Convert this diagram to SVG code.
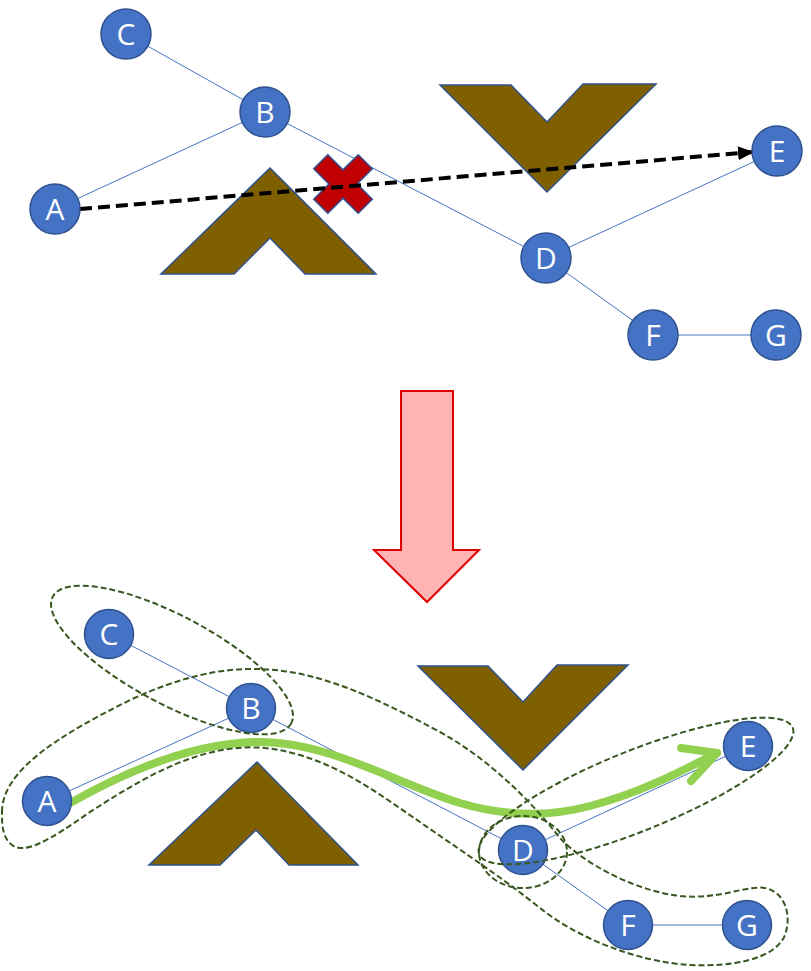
<svg xmlns="http://www.w3.org/2000/svg" width="811" height="971" viewBox="0 0 811 971">
<defs>
<style>
.node circle{fill:#4472C4;stroke:#2F528F;stroke-width:1.5}
.node text{fill:#FFFFFF;font-family:"Open Sans","Noto Sans","DejaVu Sans",sans-serif;font-size:30px;text-anchor:middle}
.edge{stroke:#4472C4;stroke-width:1;fill:none}
.obst{fill:#7F6000;stroke:#2F528F;stroke-width:1.5;stroke-linejoin:miter}
.cluster{fill:none;stroke:#38561F;stroke-width:2;stroke-dasharray:6 3}
</style>
<marker id="blackhead" markerUnits="userSpaceOnUse" markerWidth="16" markerHeight="14" refX="15" refY="7" orient="auto">
<path d="M0,0 L16,7 L0,14 Z" fill="#000000"/>
</marker>
</defs>
<rect width="811" height="971" fill="#FFFFFF"/>

<!-- TOP PANEL -->
<g id="top-connectors">
<line class="edge" x1="126" y1="34" x2="265" y2="112"/>
<line class="edge" x1="55" y1="209" x2="265" y2="112"/>
<line class="edge" x1="265" y1="112" x2="546" y2="258"/>
<line class="edge" x1="546" y1="258" x2="777" y2="151"/>
<line class="edge" x1="546" y1="258" x2="653" y2="335"/>
<line class="edge" x1="653" y1="335" x2="776" y2="335"/>
</g>
<g id="top-obstacles">
<polygon class="obst" points="270,168 376,274 305,274 270,238 234,274 161,274"/>
<polygon class="obst" points="440,85 511,85 547,122 583,84 656,84 547,192"/>
</g>
<g id="top-blocked">
<polygon fill="#C00000" stroke="#2F528F" stroke-width="1.5" points="313.7,168.8 327.8,154.7 343,169.9 358.2,154.7 372.3,168.8 357.1,184 372.3,199.2 358.2,213.3 343,198.1 327.8,213.3 313.7,199.2 328.9,184"/>
</g>
<g id="top-direct-path">
<line x1="80" y1="209" x2="753" y2="152" stroke="#000000" stroke-width="4" stroke-dasharray="12 6" marker-end="url(#blackhead)"/>
</g>
<g id="top-C" class="node"><circle cx="126" cy="34" r="25"/><text x="126" y="45">C</text></g>
<g id="top-B" class="node"><circle cx="265" cy="112" r="25"/><text x="265" y="123">B</text></g>
<g id="top-A" class="node"><circle cx="55" cy="209" r="25"/><text x="55" y="220">A</text></g>
<g id="top-E" class="node"><circle cx="777" cy="151" r="25"/><text x="777" y="162">E</text></g>
<g id="top-D" class="node"><circle cx="546" cy="258" r="25"/><text x="546" y="269">D</text></g>
<g id="top-F" class="node"><circle cx="653" cy="335" r="25"/><text x="653" y="346">F</text></g>
<g id="top-G" class="node"><circle cx="776" cy="335" r="25"/><text x="776" y="346">G</text></g>

<!-- TRANSITION ARROW -->
<g id="transition-arrow">
<polygon fill="#FFB3B3" stroke="#E00000" stroke-width="2" points="401,391 453,391 453,550 479,550 427,602 374,550 401,550"/>
</g>

<!-- BOTTOM PANEL -->
<g id="bottom-connectors">
<line class="edge" x1="109" y1="634" x2="251" y2="708"/>
<line class="edge" x1="47" y1="801" x2="251" y2="708"/>
<line class="edge" x1="251" y1="708" x2="523" y2="850"/>
<line class="edge" x1="523" y1="850" x2="748" y2="746"/>
<line class="edge" x1="523" y1="850" x2="628" y2="925"/>
<line class="edge" x1="628" y1="925" x2="747" y2="925"/>
</g>
<g id="bottom-obstacles">
<polygon class="obst" points="257,762 358,865 289,865 256,830 220,865 149,865"/>
<polygon class="obst" points="418,666 488,666 523,702 557,665 628,665 523,770"/>
</g>
<g id="bottom-route">
<path d="M72,802 C120,775 190,742 260,742 C330,742 400,785 460,803 C500,815 545,818 590,806 C640,793 680,772 717,753" fill="none" stroke="#92D050" stroke-width="8" stroke-linecap="round"/>
<polyline points="681,748 717,753 691,781" fill="none" stroke="#92D050" stroke-width="8" stroke-linecap="round" stroke-linejoin="round"/>
</g>
<g id="bottom-C" class="node"><circle cx="109" cy="634" r="24.5"/><text x="109" y="645">C</text></g>
<g id="bottom-B" class="node"><circle cx="251" cy="708" r="24.5"/><text x="251" y="719">B</text></g>
<g id="bottom-A" class="node"><circle cx="47" cy="801" r="24.5"/><text x="47" y="812">A</text></g>
<g id="bottom-D" class="node"><circle cx="523" cy="850" r="24.5"/><text x="523" y="861">D</text></g>
<g id="bottom-E" class="node"><circle cx="748" cy="746" r="24.5"/><text x="748" y="757">E</text></g>
<g id="bottom-F" class="node"><circle cx="628" cy="925" r="24.5"/><text x="628" y="936">F</text></g>
<g id="bottom-G" class="node"><circle cx="747" cy="925" r="24.5"/><text x="747" y="936">G</text></g>
<g id="clusters">
<ellipse id="cluster-CB" class="cluster" cx="172" cy="660" rx="135" ry="44" transform="rotate(28 172 660)"/>
<path id="cluster-ABDFG" class="cluster" d="M2,812 C2,770 60,735 130,700 C180,677 220,668 258,669 C320,670 380,700 440,732 C490,760 530,800 560,838 C580,860 630,890 680,896 C720,900 745,885 765,888 C785,892 792,915 785,935 C775,960 730,967 690,965 C640,962 580,940 540,908 C500,876 460,850 420,822 C380,795 330,755 265,748 C200,742 140,780 90,812 C50,840 25,855 12,845 C2,837 2,825 2,812 Z"/>
<ellipse id="cluster-DE" class="cluster" cx="636" cy="791" rx="169" ry="40" transform="rotate(-22 636 791)"/>
<ellipse id="cluster-D" class="cluster" cx="523" cy="852" rx="44" ry="36"/>
</g>
</svg>
